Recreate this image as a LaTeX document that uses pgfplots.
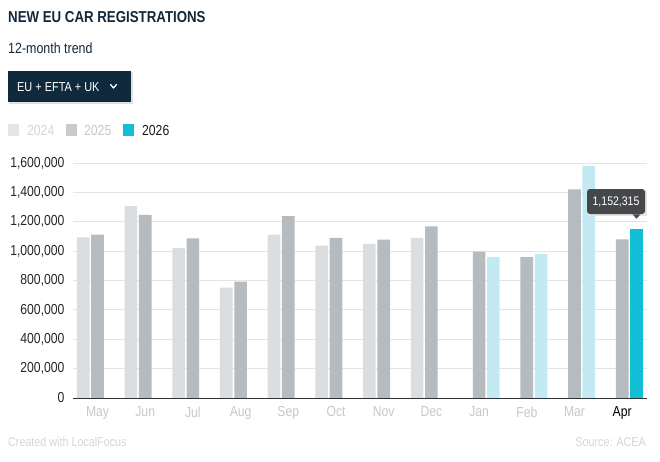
\documentclass[border=0pt]{standalone}
\usepackage{fontspec}
\setmainfont{Liberation Sans}[FakeStretch=0.84]
\usepackage{pgfplots}
\pgfplotsset{compat=1.18}
\definecolor{navy}{HTML}{0F2A3C}
\definecolor{titlec}{HTML}{13283A}
\definecolor{c24}{HTML}{DCDDDE}
\definecolor{c25}{HTML}{B6BBC0}
\definecolor{c26}{HTML}{C3EAF2}
\definecolor{c26d}{HTML}{12BED6}
\definecolor{gridc}{HTML}{E3E6E8}
\definecolor{lblc}{HTML}{C5C9CC}
\definecolor{footc}{HTML}{D3D6D8}
\definecolor{tipc}{HTML}{45474A}
\definecolor{axisc}{HTML}{2E3336}

\pgfplotstableread{
x y
0 1094000
1 1307000
2 1021000
3 751000
4 1112000
5 1037000
6 1050000
7 1091000
}\dataA
\pgfplotstableread{
x y
0 1112000
1 1246000
2 1087000
3 792000
4 1239000
5 1091000
6 1078000
7 1169000
8 996000
9 960000
10 1421000
11 1080000
}\dataB
\pgfplotstableread{
x y
8 960000
9 980000
10 1580000
}\dataC
\pgfplotstableread{
x y
11 1152315
}\dataD

\begin{document}
\begin{tikzpicture}[x=1pt,y=1pt]
\fill[white] (0,0) rectangle (660,461);
% title
\node[anchor=base west, inner sep=0, text=titlec, font=\fontsize{15.8}{18}\selectfont\bfseries] at (8,461-23) {NEW EU CAR REGISTRATIONS};
\node[anchor=base west, inner sep=0, text=titlec, font=\fontsize{14.8}{16}\selectfont] at (8,461-54) {12-month trend};
% button
\fill[black!12] (9,461-104) rectangle (133,461-72);
\fill[navy] (8,461-102) rectangle (131,461-71);
\node[anchor=base west, inner sep=0, text=white, font=\fontsize{13}{16}\selectfont] at (17,461-91.5) {EU + EFTA + UK};
\draw[white, line width=1.3pt, line cap=round, line join=round] (110.5,461-84.5) -- (113.5,461-88) -- (116.5,461-84.5);
% legend
\fill[c24!75] (8,461-136) rectangle (19,461-124);
\node[anchor=base west, inner sep=0, text=footc, font=\fontsize{14.5}{16}\selectfont] at (27,461-136) {2024};
\fill[c24!90!black!95] (66,461-136) rectangle (77,461-124);
\node[anchor=base west, inner sep=0, text=lblc, font=\fontsize{14.5}{16}\selectfont] at (84,461-136) {2025};
\fill[c26d] (123,461-136) rectangle (134,461-124);
\node[anchor=base west, inner sep=0, text=black!90, font=\fontsize{14.5}{16}\selectfont] at (142,461-136) {2026};
% footer
\node[anchor=base west, inner sep=0, text=footc, font=\fontsize{12.8}{14}\selectfont] at (8,461-446) {Created with LocalFocus};
\node[anchor=base east, inner sep=0, text=footc, font=\fontsize{12.8}{14}\selectfont] at (646,461-446) {Source: ACEA};

\begin{axis}[
  at={(73pt,63pt)}, anchor=south west,
  scale only axis, width=574pt, height=235pt,
  ybar, bar width=0.265,
  xmin=-0.514, xmax=11.52, ymin=0, ymax=1600000,
  ytick={0,200000,...,1600000},
  xtick={0,...,11},
  xticklabels={May,Jun,Jul,Aug,Sep,Oct,Nov,Dec,Jan,Feb,Mar,\textcolor{black}{Apr}},
  axis x line*=bottom, axis y line*=left,
  x axis line style={-, draw=axisc, line width=1pt},
  y axis line style={draw=none},
  major tick length=0pt,
  ymajorgrids, grid style={draw=gridc, line width=0.8pt},
  scaled y ticks=false,
  /pgf/number format/.cd, fixed, 1000 sep={,}, assume math mode=true,
  /pgfplots/.cd,
  yticklabel style={font=\fontsize{14.5}{16}\selectfont, text=black!85, xshift=-5pt},
  xticklabel style={font=\fontsize{14.5}{16}\selectfont, text=lblc, yshift=-5pt},
  clip=false,
]
\addplot[fill=c24, draw=none, bar shift=-0.3] table[x=x,y=y] {\dataA};
\addplot[fill=c25, draw=none, bar shift=0] table[x=x,y=y] {\dataB};
\addplot[fill=c26, draw=none, bar shift=0.3] table[x=x,y=y] {\dataC};
\addplot[fill=c26d, draw=none, bar shift=0.3] table[x=x,y=y] {\dataD};
\draw[draw=axisc, line width=1pt] (axis cs:-0.514,0) -- (axis cs:11.52,0);
\coordinate (aprtop) at (axis cs:11.3,1152315);
\end{axis}
% tooltip
\fill[black!10] (588,461-215.5) rectangle (646.5,461-190);
\node[anchor=center, fill=tipc, text=white, rounded corners=3pt, minimum width=58pt, minimum height=25pt, inner sep=0, font=\fontsize{12.5}{14}\selectfont] (tip) at (616,461-201.5) {1,152,315};
\fill[tipc] ([yshift=10pt]aprtop) ++(-4,4.5) -- ++(8,0) -- ++(-4,-4.5) -- cycle;
\end{tikzpicture}
\end{document}
